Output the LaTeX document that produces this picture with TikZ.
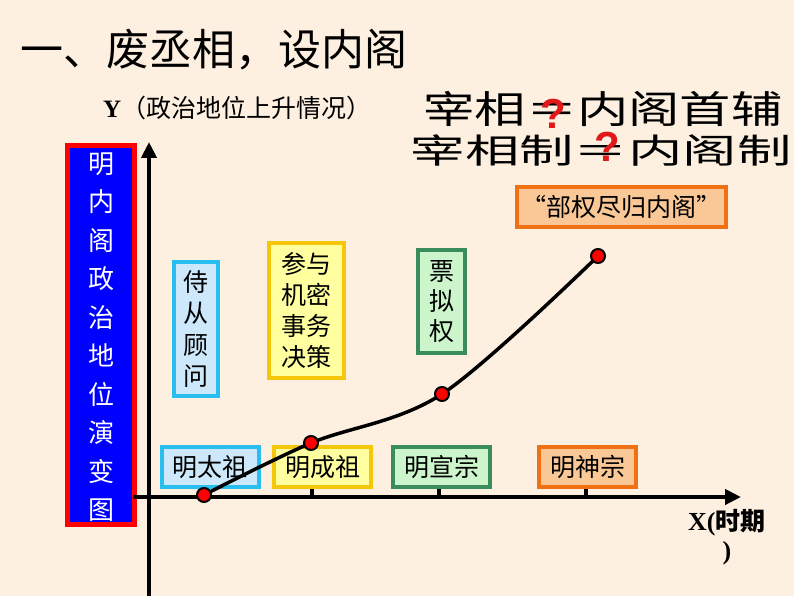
\documentclass[tikz,border=0pt]{standalone}
\usepackage{fontspec}
\usepackage{graphicx}
\setmainfont{Liberation Serif}
\newfontfamily\cjk{Noto Sans CJK SC}
\newfontfamily\qfont{Liberation Sans}
\usetikzlibrary{arrows.meta}
\definecolor{bg}{RGB}{253,240,224}
\definecolor{bluebd}{RGB}{40,190,240}
\definecolor{bluefl}{RGB}{204,232,250}
\definecolor{yelbd}{RGB}{246,198,10}
\definecolor{yelfl}{RGB}{255,255,160}
\definecolor{grnbd}{RGB}{58,140,92}
\definecolor{grnfl}{RGB}{204,245,204}
\definecolor{orgbd}{RGB}{240,112,20}
\definecolor{orgfl}{RGB}{250,200,150}
\definecolor{qred}{RGB}{225,25,25}
\begin{document}
\begin{tikzpicture}[x=1pt,y=-1pt,
  cbox/.style={draw, line width=4pt, inner sep=0pt, align=center,
     font=\cjk\fontsize{25}{31}\selectfont},
  bluebox/.style={cbox, draw=bluebd, fill=bluefl},
  yelbox/.style={cbox, draw=yelbd, fill=yelfl},
  grnbox/.style={cbox, draw=grnbd, fill=grnfl},
  orgbox/.style={cbox, draw=orgbd, fill=orgfl},
  dot/.style={circle, fill=red, draw=black, line width=2pt, minimum size=14pt, inner sep=0pt},
  axis/.style={line width=4pt, -{Triangle[length=16pt,width=15pt]}},
  tick/.style={line width=4pt},
  qmark/.style={text=qred, font=\qfont\bfseries\fontsize{42}{42}\selectfont, inner sep=0pt}
]
\fill[bg] (0,0) rectangle (794,596);
\useasboundingbox (0,0) rectangle (794,596);

% title
\node[anchor=west, inner sep=0pt, font=\cjk\fontsize{43}{43}\selectfont] (title) at (20,50) {一、废丞相，设内阁};

% Y label
\node[anchor=west, inner sep=0pt] (ylab) at (103,108)
  {\fontsize{25}{25}\selectfont\bfseries Y\cjk\mdseries\fontsize{25}{25}\selectfont（政治地位上升情况）};

% top-right statements
\node[inner sep=0pt, font=\cjk\fontsize{38}{38}\selectfont] (line1) at (603,109)
  {\scalebox{1.35}[1]{宰相＝内阁首辅}};
\node[inner sep=0pt, font=\cjk\fontsize{34}{34}\selectfont] (line2) at (601,150)
  {\scalebox{1.6}[1]{宰相制＝内阁制}};
\node[qmark] (q1) at (553,114) {?};
\node[qmark] (q2) at (607,147) {?};

% left vertical title box
\node[draw=red, fill=blue, line width=5pt, minimum width=67pt, minimum height=379pt, inner sep=0pt] (vbox) at (101,335) {};
\node[text=white, align=center, inner sep=0pt, font=\cjk\fontsize{26}{38.5}\selectfont] (vtext) at (101,337)
  {明\\内\\阁\\政\\治\\地\\位\\演\\变\\图};

% axes
\coordinate (yb) at (149,596);
\coordinate (yt) at (149,142);
\coordinate (xl) at (133,497);
\coordinate (xr) at (741,497);
\draw[axis] (yb) -- (yt);
\draw[axis] (xl) -- (xr);

% ticks
\coordinate (t1a) at (312,488); \coordinate (t1b) at (312,497);
\coordinate (t2a) at (439,488); \coordinate (t2b) at (439,497);
\coordinate (t3a) at (586,488); \coordinate (t3b) at (586,497);
\draw[tick] (t1a) -- (t1b);
\draw[tick] (t2a) -- (t2b);
\draw[tick] (t3a) -- (t3b);

% X label
\node[anchor=west, inner sep=0pt] (xlab) at (688,523)
  {\fontsize{26}{26}\selectfont\bfseries X(\cjk\fontsize{25}{25}\selectfont 时期};
\node[inner sep=0pt, font=\fontsize{26}{26}\selectfont\bfseries] (xlab2) at (727,553) {)};

% bottom boxes
\node[bluebox, minimum width=97pt, minimum height=40pt] (b1) at (210,467) {明太祖};
\node[yelbox, minimum width=97pt, minimum height=40pt] (b2) at (322.5,467) {明成祖};
\node[grnbox, minimum width=97pt, minimum height=40pt] (b3) at (441.5,467) {明宣宗};
\node[orgbox, minimum width=97pt, minimum height=40pt] (b4) at (587.5,467) {明神宗};

% upper boxes
\node[bluebox, minimum width=44pt, minimum height=134pt, font=\cjk\fontsize{25}{31.5}\selectfont] (u1) at (196,329) {侍\\从\\顾\\问};
\node[yelbox, minimum width=75pt, minimum height=135pt] (u2) at (306.5,310.5) {参与\\机密\\事务\\决策};
\node[grnbox, minimum width=47pt, minimum height=103pt, font=\cjk\fontsize{25}{30}\selectfont] (u3) at (441.5,301.5) {票\\拟\\权};
\node[orgbox, minimum width=209pt, minimum height=40pt] (u4) at (621.5,207) {“部权尽归内阁”};

% curve
\coordinate (p1) at (204,495);
\coordinate (p2) at (311,443);
\coordinate (p3) at (442,394);
\coordinate (p4) at (598,256);
\draw[line width=3.5pt] plot[smooth, tension=0.55] coordinates {(p1) (p2) (p3) (p4)};
\node[dot] (d1) at (p1) {};
\node[dot] (d2) at (p2) {};
\node[dot] (d3) at (p3) {};
\node[dot] (d4) at (p4) {};
\end{tikzpicture}
\end{document}
